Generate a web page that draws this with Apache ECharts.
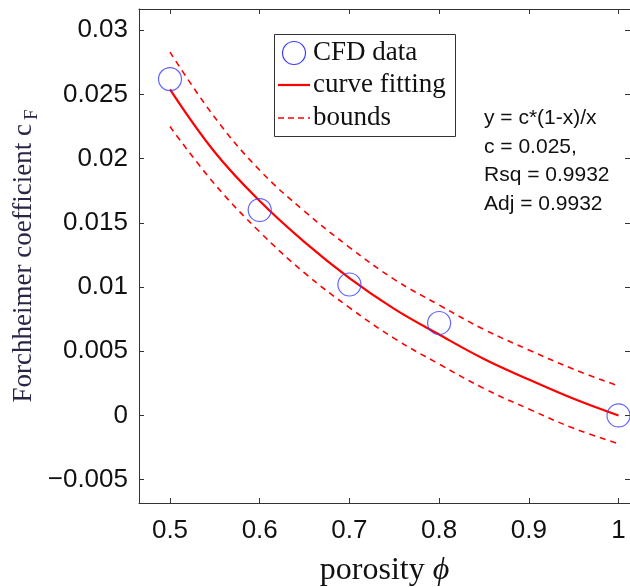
<!DOCTYPE html>
<html>
<head>
<meta charset="utf-8">
<script src="https://cdn.jsdelivr.net/npm/echarts@6/dist/echarts.min.js"></script>
<style>html,body{margin:0;padding:0;background:#fff}#c{width:630px;height:587px}</style>
</head>
<body>
<div id="c"></div>
<script>
// CFD data points (porosity, cF)
const cfdX = [0.5, 0.6, 0.7, 0.8, 1.0];
const cfdY = [0.0262, 0.0160, 0.0102, 0.0072, 0.0];
// fitted curve
const fitX = [0.5, 0.55, 0.6, 0.65, 0.7, 0.75, 0.8, 0.85, 0.9, 0.95, 1.0];
const fitY = [0.0254, 0.0205, 0.0167, 0.0135, 0.0107, 0.0083, 0.0063, 0.0044, 0.0028, 0.0013, 0.0];
const upperY = [0.0283, 0.0232, 0.0191, 0.0159, 0.0131, 0.0106, 0.0086, 0.0067, 0.0051, 0.0036, 0.0023];
const lowerY = [0.0225, 0.0180, 0.0143, 0.0111, 0.0084, 0.0060, 0.0040, 0.0021, 0.0005, -0.0010, -0.0022];
// tick labels
const xTicks = [0.5, 0.6, 0.7, 0.8, 0.9, 1.0];
const xTickLabels = ['0.5', '0.6', '0.7', '0.8', '0.9', '1'];
const yTicks = [-0.005, 0, 0.005, 0.01, 0.015, 0.02, 0.025, 0.03];
const yTickLabels = ['\u22120.005', '0', '0.005', '0.01', '0.015', '0.02', '0.025', '0.03'];
const legendNames = ['CFD data', 'curve fitting', 'bounds'];
const annotation = ['y = c*(1-x)/x', 'c = 0.025,', 'Rsq = 0.9932', 'Adj = 0.9932'];

const zip = (a, b) => a.map((v, i) => [v, b[i]]);
const xLab = v => { const i = xTicks.findIndex(t => Math.abs(t - v) < 1e-9); return i >= 0 ? xTickLabels[i] : ''; };
const yLab = v => { const i = yTicks.findIndex(t => Math.abs(t - v) < 1e-9); return i >= 0 ? yTickLabels[i] : ''; };

const axisCol = '#333333';
const red = '#ff0000';
const blue = '#3d3dff';
const sans = 'Liberation Sans, Arial, sans-serif';
const serif = 'Liberation Serif, Times New Roman, serif';

// legend drawn as graphic elements
const LX = 274, LY = 34, LW = 181, LH = 102;
const rowY = [53, 85, 118];
const legendGraphic = [
  {type: 'rect', shape: {x: LX + 0.5, y: LY + 0.5, width: LW, height: LH}, z: 20,
   style: {fill: '#fff', stroke: '#333', lineWidth: 1}},
  {type: 'circle', shape: {cx: 294, cy: rowY[0], r: 11.5}, z: 21,
   style: {fill: 'none', stroke: blue, lineWidth: 1.2}},
  {type: 'line', shape: {x1: 278, y1: rowY[1], x2: 310, y2: rowY[1]}, z: 21,
   style: {stroke: red, lineWidth: 2.2}},
  {type: 'line', shape: {x1: 278, y1: rowY[2], x2: 310, y2: rowY[2]}, z: 21,
   style: {stroke: red, lineWidth: 1.6, lineDash: [6, 4]}},
].concat(legendNames.map((n, i) => ({
  type: 'text', x: 313, y: rowY[i], z: 21,
  style: {text: n, fontFamily: serif, fontSize: 27, fill: '#111', verticalAlign: 'middle', align: 'left'}
})));

const chart = echarts.init(document.getElementById('c'), null, {renderer: 'canvas'});
chart.setOption({
  animation: false,
  backgroundColor: '#ffffff',
  grid: {left: 139, top: 9, right: 0, bottom: 84, containLabel: false, outerBoundsMode: 'none'},
  xAxis: [{
    type: 'value', min: 0.46544, max: 1.0128,
    axisLine: {show: true, onZero: false, lineStyle: {color: axisCol, width: 1}},
    axisTick: {show: true, inside: true, length: 5, customValues: xTicks, lineStyle: {color: axisCol}},
    axisLabel: {customValues: xTicks, formatter: xLab, fontFamily: sans, fontSize: 26, color: '#111', margin: 15},
    splitLine: {show: false},
    name: '{a|porosity }{b|\u03D5}', nameLocation: 'middle', nameGap: 52, nameMoveOverlap: false,
    nameTextStyle: {rich: {
      a: {fontFamily: serif, fontSize: 32, color: '#111'},
      b: {fontFamily: serif, fontSize: 32, fontStyle: 'italic', color: '#111'}
    }}
  }, {
    type: 'value', position: 'top', min: 0.46544, max: 1.0128,
    axisLine: {show: true, onZero: false, lineStyle: {color: axisCol, width: 1}},
    axisTick: {show: true, inside: true, length: 5, customValues: xTicks, lineStyle: {color: axisCol}},
    axisLabel: {show: false}, splitLine: {show: false}
  }],
  yAxis: [{
    type: 'value', min: -0.00682, max: 0.03166,
    axisLine: {show: true, onZero: false, lineStyle: {color: axisCol, width: 1}},
    axisTick: {show: true, inside: true, length: 5, customValues: yTicks, lineStyle: {color: axisCol}},
    axisLabel: {customValues: yTicks, formatter: yLab, fontFamily: sans, fontSize: 26, color: '#111', margin: 11},
    splitLine: {show: false},
    name: '{a|Forchheimer coefficient c}{b|F}', nameLocation: 'middle', nameGap: 100, nameRotate: 90,
    nameMoveOverlap: false,
    nameTextStyle: {rich: {
      a: {fontFamily: serif, fontSize: 27, color: '#2b2545', lineHeight: 30},
      b: {fontFamily: serif, fontSize: 19, color: '#2b2545', lineHeight: 30, padding: [16, 0, 0, 4]}
    }}
  }, {
    type: 'value', position: 'right', min: -0.00682, max: 0.03166,
    axisLine: {show: true, onZero: false, lineStyle: {color: axisCol, width: 1}},
    axisTick: {show: true, inside: true, length: 5, customValues: yTicks, lineStyle: {color: axisCol}},
    axisLabel: {show: false}, splitLine: {show: false}
  }],
  series: [
    {name: 'bounds', type: 'line', data: zip(fitX, upperY), smooth: 0.4, symbol: 'none',
     lineStyle: {color: red, width: 1.6, type: [6, 5]}, z: 2},
    {name: 'bounds', type: 'line', data: zip(fitX, lowerY), smooth: 0.4, symbol: 'none',
     lineStyle: {color: red, width: 1.6, type: [6, 5]}, z: 2},
    {name: 'curve fitting', type: 'line', data: zip(fitX, fitY), smooth: 0.4, symbol: 'none',
     lineStyle: {color: red, width: 2.2}, z: 3},
    {name: 'CFD data', type: 'scatter', data: zip(cfdX, cfdY), symbol: 'circle', symbolSize: 23,
     itemStyle: {color: 'rgba(0,0,0,0)', borderColor: blue, borderWidth: 1.2}, z: 4}
  ],
  graphic: legendGraphic.concat([{
    type: 'text', left: 484, top: 104, z: 10,
    style: {text: annotation.join('\n'), fontFamily: sans, fontSize: 21, lineHeight: 28.5, fill: '#111'}
  }])
});
</script>
</body>
</html>
